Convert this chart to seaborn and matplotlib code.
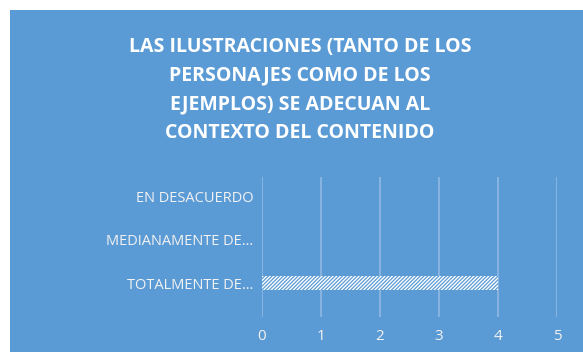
import matplotlib
matplotlib.use("Agg")
import matplotlib.pyplot as plt
import seaborn as sns
import pandas as pd
from matplotlib.patches import Rectangle

# Survey answers and their counts
categories = ["EN DESACUERDO", "MEDIANAMENTE DE…", "TOTALMENTE DE…"]
values = [0, 0, 4]
x_ticks = [0, 1, 2, 3, 4, 5]
title = ("LAS ILUSTRACIONES (TANTO DE LOS\nPERSONAJES COMO DE LOS\n"
         "EJEMPLOS) SE ADECUAN AL\nCONTEXTO DEL CONTENIDO")

BLUE = "#5B9BD5"
GRID = "#8FB9E3"
TEXT = "#F2F2F2"

sns.set_style("white")
plt.rcParams["font.family"] = ["Open Sans", "DejaVu Sans"]
plt.rcParams["hatch.color"] = BLUE
plt.rcParams["hatch.linewidth"] = 0.9

W, H = 583, 352
fig = plt.figure(figsize=(W / 100, H / 100), dpi=100)
fig.patch.set_facecolor("white")
fig.patches.append(Rectangle((10 / W, 0), 1 - 10 / W, 1 - 10 / H,
                             transform=fig.transFigure, facecolor=BLUE,
                             edgecolor="none", zorder=-5))

ax = fig.add_axes([262 / W, 35 / H, 295 / W, 140 / H])
ax.set_facecolor("none")
ax.set_zorder(2)

df = pd.DataFrame({"cat": categories, "val": values})
sns.barplot(data=df, x="val", y="cat", order=categories, orient="h",
            color="white", width=0.32, ax=ax, zorder=3)
for bar in ax.patches:
    bar.set_facecolor("white")
    bar.set_edgecolor(BLUE)
    bar.set_linewidth(0)
    bar.set_hatch("/////////")

ax.set_xlim(0, 5)
ax.set_ylim(2 + 0.78, -0.44)
ax.set_xticks(x_ticks)
ax.set_xticklabels([str(t) for t in x_ticks])
ax.xaxis.grid(True, color=GRID, linewidth=1.2)
ax.set_axisbelow(True)
for s in ax.spines.values():
    s.set_visible(False)
ax.set_xlabel("")
ax.set_ylabel("")
ax.tick_params(axis="x", length=0, pad=9, labelsize=11, labelcolor=TEXT)
ax.tick_params(axis="y", length=0, pad=6, labelsize=10.5, labelcolor=TEXT)

fig.text(300 / W, 1 - 37 / H, title, ha="center", va="top", color="white",
         fontsize=14, fontweight="bold", linespacing=1.57)

fig.savefig("out.png", dpi=100)
